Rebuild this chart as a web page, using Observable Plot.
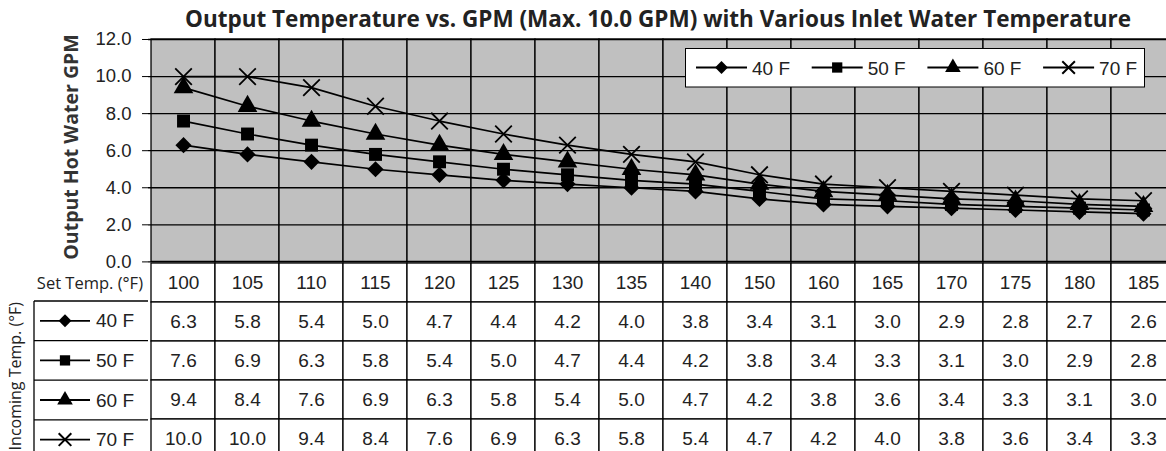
<!DOCTYPE html>
<html><head><meta charset="utf-8">
<script src="https://cdn.jsdelivr.net/npm/d3@7"></script>
<script src="https://cdn.jsdelivr.net/npm/@observablehq/plot@0.6"></script>
<style>
html,body{margin:0;padding:0;background:#fff;overflow:hidden;width:1166px;height:451px;}
#wrap{position:relative;width:1180px;height:451px;}
#wrap > svg, #wrap > figure{position:absolute;margin:0;}
</style></head><body><div id="wrap"></div>
<script>
// ---- data ----
const setTemps = ["100","105","110","115","120","125","130","135","140","150","160","165","170","175","180","185"];
const inletTemps = ["40 F","50 F","60 F","70 F"];
const gpm40 = [6.3,5.8,5.4,5.0,4.7,4.4,4.2,4.0,3.8,3.4,3.1,3.0,2.9,2.8,2.7,2.6];
const gpm50 = [7.6,6.9,6.3,5.8,5.4,5.0,4.7,4.4,4.2,3.8,3.4,3.3,3.1,3.0,2.9,2.8];
const gpm60 = [9.4,8.4,7.6,6.9,6.3,5.8,5.4,5.0,4.7,4.2,3.8,3.6,3.4,3.3,3.1,3.0];
const gpm70 = [10.0,10.0,9.4,8.4,7.6,6.9,6.3,5.8,5.4,4.7,4.2,4.0,3.8,3.6,3.4,3.3];
const yTicks = [0,2,4,6,8,10,12];
const symbols = ["diamond2","square","triangle","times"];
const titleText = "Output Temperature vs. GPM (Max. 10.0 GPM) with Various Inlet Water Temperature";
const yTitle = "Output Hot Water GPM";
const setLabel = "Set Temp. (°F)";
const inLabel = "Incoming Temp. (°F)";

const series = [gpm40,gpm50,gpm60,gpm70];
const rows = inletTemps.flatMap((s,j)=>setTemps.map((t,i)=>({series:s, setTemp:t, gpm:series[j][i]})));

const W = 1180, L = 148, R = 1.6;
const wrap = document.getElementById("wrap");
const numFont = "'Liberation Sans', Arial, sans-serif";

// ---- chart ----
const dotMarks = inletTemps.map((s,j)=>{
  const data = rows.filter(d=>d.series===s);
  const sym = symbols[j];
  return sym === "times"
    ? Plot.dot(data,{x:"setTemp",y:"gpm",symbol:sym,r:7.6,stroke:"#000",strokeWidth:1.8,fill:"none"})
    : Plot.dot(data,{x:"setTemp",y:"gpm",symbol:sym,r:7.3,fill:"#000",stroke:"none"});
});
const chart = Plot.plot({
  width:W, height:10+222.4+2, marginLeft:L, marginRight:R, marginTop:10, marginBottom:2,
  style:{background:"transparent", fontFamily:numFont, fontSize:"18.5px", color:"#222", overflow:"visible"},
  x:{type:"band", domain:setTemps, padding:0, axis:null},
  y:{domain:[0,12], ticks:yTicks, tickFormat:d=>d.toFixed(1), label:null, tickSize:6, tickPadding:11},
  marks:[
    Plot.cell(setTemps,{x:d=>d, fill:"#c0c0c0", stroke:"#000", strokeWidth:1.3}),
    Plot.ruleY(yTicks,{stroke:"#000", strokeWidth:1.3}),
    Plot.line(rows,{x:"setTemp", y:"gpm", z:"series", stroke:"#000", strokeWidth:1.7}),
    ...dotMarks,
    Plot.axisY({ticks:yTicks, tickFormat:d=>d.toFixed(1), label:null, tickSize:6, tickPadding:11, fill:"#222", stroke:"#000"})
  ]
});
chart.style.left = "0px"; chart.style.top = "29px";

// ---- table ----
const hdr = "hdr";
const cells = [
  ...setTemps.map(t=>({row:hdr, setTemp:t, label:t})),
  ...rows.map(d=>({row:d.series, setTemp:d.setTemp, label:d.gpm.toFixed(1)}))
];
const table = Plot.plot({
  width:W, height:2+5*39.6, marginLeft:L, marginRight:R, marginTop:2, marginBottom:0,
  style:{background:"transparent", fontFamily:numFont, fontSize:"19px", overflow:"visible"},
  x:{type:"band", domain:setTemps, padding:0, axis:null},
  y:{type:"band", domain:[hdr,...inletTemps], padding:0, axis:null},
  marks:[
    Plot.cell(cells,{x:"setTemp", y:"row", fill:"#fff", stroke:"#000", strokeWidth:1.3}),
    Plot.text(cells,{x:"setTemp", y:"row", text:"label", fill:"#222", fontSize:19})
  ]
});
table.style.left = "0px"; table.style.top = "259.4px";

wrap.appendChild(table);
wrap.appendChild(chart);

// ---- overlay: titles, legend, row labels ----
const ov = d3.select(wrap).append("svg").attr("width",W).attr("height",451)
  .style("left","0px").style("top","0px").style("overflow","visible");

ov.append("text").attr("x",658).attr("y",27).attr("text-anchor","middle")
  .attr("font-family","'Open Sans', sans-serif").attr("font-weight","bold").attr("font-size",22.5)
  .attr("fill","#222").text(titleText);

ov.append("text").attr("transform","translate(70,147) rotate(-90)").attr("text-anchor","middle")
  .attr("dominant-baseline","central")
  .attr("font-family","'Open Sans', sans-serif").attr("font-weight","bold").attr("font-size",19.5)
  .attr("fill","#333").text(yTitle);

ov.append("text").attr("x",143).attr("y",289).attr("text-anchor","end")
  .attr("font-family","'Open Sans', sans-serif").attr("font-size",16.5)
  .attr("fill","#222").text(setLabel);

ov.append("text").attr("transform","translate(15,302) rotate(-90)").attr("text-anchor","end")
  .attr("dominant-baseline","central")
  .attr("font-family","'Open Sans', sans-serif").attr("font-size",16)
  .attr("fill","#222").text(inLabel);

const symTypes = {diamond2:d3.symbolDiamond2, square:d3.symbolSquare, triangle:d3.symbolTriangle, times:d3.symbolTimes};
function glyph(g, x0, x1, cx, cy, sym, r){
  g.append("line").attr("x1",x0).attr("x2",x1).attr("y1",cy).attr("y2",cy).attr("stroke","#000").attr("stroke-width",1.8);
  const p = g.append("path").attr("transform",`translate(${cx},${cy})`)
    .attr("d", d3.symbol(symTypes[sym], Math.PI*r*r)());
  if (sym==="times") p.attr("fill","none").attr("stroke","#000").attr("stroke-width",2);
  else p.attr("fill","#000");
}

// legend box in plot
const lg = ov.append("g");
lg.append("rect").attr("x",685.5).attr("y",48.5).attr("width",459).attr("height",38.5).attr("fill","#fff").attr("stroke","#000").attr("stroke-width",1);
inletTemps.forEach((s,j)=>{
  const x0 = 696 + 115.7*j;
  glyph(lg, x0, x0+51, x0+25.5, 67.5, symbols[j], 5.8);
  lg.append("text").attr("x",x0+56).attr("y",68).attr("dominant-baseline","central")
    .attr("font-family",numFont).attr("font-size",19).attr("fill","#222").text(s);
});

// table row labels
const rowTop = 261.4 + 39.6;
const tg = ov.append("g");
inletTemps.forEach((s,j)=>{
  const y0 = rowTop + 39.6*j, cy = y0 + 19.8;
  tg.append("line").attr("x1",34).attr("x2",L).attr("y1",y0).attr("y2",y0).attr("stroke","#000").attr("stroke-width",1.3);
  glyph(tg, 40, 90, 65, cy, symbols[j], 5.8);
  tg.append("text").attr("x",96).attr("y",cy).attr("dominant-baseline","central")
    .attr("font-family",numFont).attr("font-size",19).attr("fill","#222").text(s);
});
tg.append("line").attr("x1",34).attr("x2",34).attr("y1",rowTop).attr("y2",460).attr("stroke","#000").attr("stroke-width",1.3);
</script></body></html>
